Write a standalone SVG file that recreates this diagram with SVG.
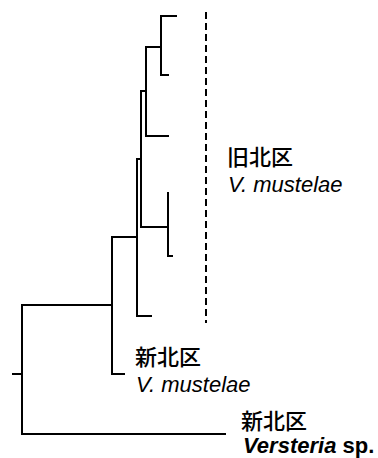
<svg xmlns="http://www.w3.org/2000/svg" width="378" height="458" viewBox="0 0 378 458">
  <style>
    .br { fill: none; stroke: #000; stroke-width: 2; stroke-linecap: square; }
    .sep { fill: none; stroke: #000; stroke-width: 2; stroke-dasharray: 7 4; }
    .cjk { font-family: "Noto Sans CJK JP", "Noto Sans CJK SC", sans-serif; font-size: 22px; font-weight: 500; fill: #000; }
    .sp { font-family: "Liberation Sans", Arial, sans-serif; font-size: 22px; fill: #000; }
  </style>
  <rect width="378" height="458" fill="#fff"/>

  <!-- tree branches -->
  <g id="connectors">
    <!-- root -->
    <path class="br" d="M13 374 H22 M22 305 V434 M22 305 H112 M22 434 H225"/>
    <!-- Nearctic V. mustelae split -->
    <path class="br" d="M112 237 V374 H124 M112 237 H137"/>
    <!-- Palearctic clade -->
    <path class="br" d="M137 159 V316 H151 M137 159 H141"/>
    <path class="br" d="M141 91 V227 H168 M141 91 H146"/>
    <path class="br" d="M168 193 V256 H172"/>
    <path class="br" d="M146 47 V136 H168 M146 47 H161"/>
    <path class="br" d="M161 16 H176 M161 16 V75 H168"/>
  </g>

  <!-- clade bracket -->
  <g id="palearctic-bar">
    <line class="sep" x1="206" y1="12" x2="206" y2="323"/>
  </g>

  <g id="label-palearctic">
    <text class="cjk" x="227" y="165">旧北区</text>
    <text class="sp" x="228" y="192" font-style="italic">V. mustelae</text>
  </g>

  <g id="label-nearctic-mustelae">
    <text class="cjk" x="135" y="365">新北区</text>
    <text class="sp" x="136" y="392" font-style="italic">V. mustelae</text>
  </g>

  <g id="label-nearctic-versteria">
    <text class="cjk" x="241" y="429">新北区</text>
    <text class="sp" x="243" y="453" font-weight="bold"><tspan font-style="italic">Versteria</tspan> sp.</text>
  </g>
</svg>
